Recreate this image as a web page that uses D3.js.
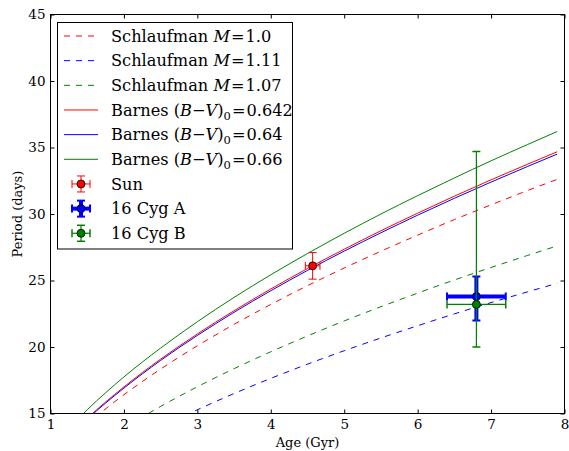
<!DOCTYPE html>
<html>
<head>
<meta charset="utf-8">
<script src="https://cdn.jsdelivr.net/npm/d3@7"></script>
<style>
  body { margin: 0; background: #fff; }
</style>
</head>
<body>
<svg id="chart" width="569" height="451" font-family="DejaVu Serif"></svg>
<script>
// Ages (Gyr) at which each rotation-period track is sampled
const ages = [1.0, 1.5, 2.0, 2.5, 3.0, 3.5, 4.0, 4.5, 5.0, 5.5, 6.0, 6.5, 7.0, 7.5, 7.9];

// Schlaufman tracks (period in days)
const schlaufmanM100 = [11.60, 14.21, 16.41, 18.34, 20.09, 21.70, 23.20, 24.61, 25.94, 27.20, 28.41, 29.58, 30.69, 31.77, 32.60];
const schlaufmanM111 = [8.82, 10.80, 12.47, 13.95, 15.28, 16.50, 17.64, 18.71, 19.72, 20.68, 21.60, 22.49, 23.34, 24.15, 24.79];
const schlaufmanM107 = [9.82, 12.03, 13.89, 15.53, 17.01, 18.37, 19.64, 20.83, 21.96, 23.03, 24.05, 25.04, 25.98, 26.89, 27.60];

// Barnes gyrochronology tracks (period in days)
const barnesBV0642 = [11.87, 14.64, 17.00, 19.09, 20.98, 22.73, 24.36, 25.90, 27.35, 28.74, 30.06, 31.34, 32.57, 33.75, 34.68];
const barnesBV064  = [11.80, 14.57, 16.91, 18.99, 20.87, 22.61, 24.23, 25.76, 27.21, 28.59, 29.91, 31.18, 32.40, 33.58, 34.50];
const barnesBV066  = [12.39, 15.28, 17.75, 19.92, 21.90, 23.73, 25.43, 27.03, 28.55, 30.00, 31.38, 32.71, 34.00, 35.23, 36.20];

// Stars with measured ages and periods
const starNames      = ["Sun", "16 Cyg A", "16 Cyg B"];
const starAges       = [4.57, 6.8, 6.8];
const starAgeErr     = [0.1, 0.4, 0.4];
const starPeriods    = [26.1, 23.8, 23.2];
const starPeriodLow  = [1.0, 1.8, 3.2];
const starPeriodHigh = [1.0, 1.5, 11.5];

// Axis ticks
const xTicks = [1, 2, 3, 4, 5, 6, 7, 8];
const yTicks = [15, 20, 25, 30, 35, 40, 45];

const FONT = "DejaVu Serif";
const svg = d3.select("#chart");
const plotLeft = 50.5, plotRight = 564.5, plotTop = 14.5, plotBottom = 413.5;

const x = d3.scaleLinear().domain([1, 8]).range([plotLeft, plotRight]);
const y = d3.scaleLinear().domain([15, 45]).range([plotBottom, plotTop]);

svg.append("defs").append("clipPath").attr("id", "plot-clip")
  .append("rect").attr("x", plotLeft).attr("y", plotTop)
  .attr("width", plotRight - plotLeft).attr("height", plotBottom - plotTop);

// Track definitions
const tracks = [
  { values: schlaufmanM100, color: "#ff0000", dashed: true },
  { values: schlaufmanM111, color: "#0000ff", dashed: true },
  { values: schlaufmanM107, color: "#008000", dashed: true },
  { values: barnesBV0642,   color: "#ff0000", dashed: false },
  { values: barnesBV064,    color: "#0000ff", dashed: false },
  { values: barnesBV066,    color: "#008000", dashed: false }
];

const line = d3.line()
  .x((d, i) => x(ages[i]))
  .y(d => y(d))
  .curve(d3.curveMonotoneX);

const plot = svg.append("g").attr("clip-path", "url(#plot-clip)");
tracks.forEach(t => {
  plot.append("path")
    .attr("d", line(t.values))
    .attr("fill", "none")
    .attr("stroke", t.color)
    .attr("stroke-width", 1)
    .attr("stroke-dasharray", t.dashed ? "6,6" : null);
});

// Error-bar styles per star
const starColors = ["#ff0000", "#0000ff", "#008000"];
const barWidths  = [1, 4, 1.2];
const capWidths  = [1, 2, 1.5];
const capHalf    = 4;

function drawErrorbar(g, cx, cy, x0, x1, y0, y1, i) {
  const c = starColors[i];
  g.append("line").attr("x1", x0).attr("x2", x1).attr("y1", cy).attr("y2", cy)
    .attr("stroke", c).attr("stroke-width", barWidths[i]);
  g.append("line").attr("x1", cx).attr("x2", cx).attr("y1", y0).attr("y2", y1)
    .attr("stroke", c).attr("stroke-width", barWidths[i]);
  [x0, x1].forEach(xx => g.append("line")
    .attr("x1", xx).attr("x2", xx).attr("y1", cy - capHalf).attr("y2", cy + capHalf)
    .attr("stroke", c).attr("stroke-width", capWidths[i]));
  [y0, y1].forEach(yy => g.append("line")
    .attr("x1", cx - capHalf).attr("x2", cx + capHalf).attr("y1", yy).attr("y2", yy)
    .attr("stroke", c).attr("stroke-width", capWidths[i]));
  g.append("circle").attr("cx", cx).attr("cy", cy).attr("r", 4)
    .attr("fill", c).attr("stroke", "#000").attr("stroke-width", 0.8);
}

const starLayer = svg.append("g").attr("clip-path", "url(#plot-clip)");
starNames.forEach((n, i) => {
  drawErrorbar(starLayer,
    x(starAges[i]), y(starPeriods[i]),
    x(starAges[i] - starAgeErr[i]), x(starAges[i] + starAgeErr[i]),
    y(starPeriods[i] + starPeriodHigh[i]), y(starPeriods[i] - starPeriodLow[i]), i);
});

// Axes with inward ticks on all four sides
const gx = svg.append("g").attr("transform", `translate(0,${plotBottom})`)
  .call(d3.axisBottom(x).tickValues(xTicks).tickFormat(d3.format("d"))
    .tickSizeInner(-4).tickSizeOuter(0).tickPadding(6));
const gxt = svg.append("g").attr("transform", `translate(0,${plotTop})`)
  .call(d3.axisTop(x).tickValues(xTicks).tickFormat("")
    .tickSizeInner(-4).tickSizeOuter(0));
const gy = svg.append("g").attr("transform", `translate(${plotLeft},0)`)
  .call(d3.axisLeft(y).tickValues(yTicks).tickFormat(d3.format("d"))
    .tickSizeInner(-4).tickSizeOuter(0).tickPadding(5));
const gyr = svg.append("g").attr("transform", `translate(${plotRight},0)`)
  .call(d3.axisRight(y).tickValues(yTicks).tickFormat("")
    .tickSizeInner(-4).tickSizeOuter(0));
[gx, gxt, gy, gyr].forEach(g => {
  g.attr("font-family", FONT).attr("font-size", 13.5);
  g.select(".domain").remove();
  g.selectAll(".tick line").attr("stroke", "#000").attr("stroke-width", 1);
  g.selectAll(".tick text").attr("fill", "#000");
});

// Frame
svg.append("rect").attr("x", plotLeft).attr("y", plotTop)
  .attr("width", plotRight - plotLeft).attr("height", plotBottom - plotTop)
  .attr("fill", "none").attr("stroke", "#000").attr("stroke-width", 1);

// Axis labels
svg.append("text").attr("x", (plotLeft + plotRight) / 2).attr("y", 447)
  .attr("font-family", FONT).attr("font-size", 13)
  .attr("text-anchor", "middle").text("Age (Gyr)");
svg.append("text")
  .attr("transform", `translate(22,${(plotTop + plotBottom) / 2}) rotate(-90)`)
  .attr("font-family", FONT).attr("font-size", 13)
  .attr("text-anchor", "middle").text("Period (days)");

// Legend
const legend = svg.append("g").attr("font-family", FONT);
legend.append("rect").attr("x", 57.5).attr("y", 22.5).attr("width", 235).attr("height", 226.5)
  .attr("fill", "#fff").attr("stroke", "#000").attr("stroke-width", 1);

const legendLabels = [
  [{ t: "Schlaufman " }, { t: "M", i: true }, { t: "=", dx: 1 }, { t: "1.0", dx: 1 }],
  [{ t: "Schlaufman " }, { t: "M", i: true }, { t: "=", dx: 1 }, { t: "1.11", dx: 1 }],
  [{ t: "Schlaufman " }, { t: "M", i: true }, { t: "=", dx: 1 }, { t: "1.07", dx: 1 }],
  [{ t: "Barnes (" }, { t: "B", i: true }, { t: "\u2212" }, { t: "V", i: true }, { t: ")" }, { t: "0", sub: true }, { t: "=", dx: 1, up: true }, { t: "0.642", dx: 1 }],
  [{ t: "Barnes (" }, { t: "B", i: true }, { t: "\u2212" }, { t: "V", i: true }, { t: ")" }, { t: "0", sub: true }, { t: "=", dx: 1, up: true }, { t: "0.64", dx: 1 }],
  [{ t: "Barnes (" }, { t: "B", i: true }, { t: "\u2212" }, { t: "V", i: true }, { t: ")" }, { t: "0", sub: true }, { t: "=", dx: 1, up: true }, { t: "0.66", dx: 1 }]
];

const rowY = i => 36 + i * 24.66;
const legendSize = 16.2;

tracks.forEach((t, i) => {
  const yy = rowY(i);
  legend.append("line").attr("x1", 64).attr("x2", 98).attr("y1", yy).attr("y2", yy)
    .attr("stroke", t.color).attr("stroke-width", 1)
    .attr("stroke-dasharray", t.dashed ? "6,6" : null);
  const txt = legend.append("text").attr("x", 111).attr("y", yy).attr("dy", "0.36em")
    .attr("font-size", legendSize);
  legendLabels[i].forEach(p => {
    const s = txt.append("tspan").text(p.t);
    if (p.i) s.attr("font-style", "italic");
    if (p.sub) s.attr("font-size", 11.5).attr("dy", 4);
    if (p.up) s.attr("dy", -4);
    if (p.dx) s.attr("dx", p.dx);
  });
});

starNames.forEach((n, i) => {
  const yy = rowY(6 + i);
  drawErrorbar(legend, 81, yy, 72, 90, yy - 8, yy + 8, i);
  legend.append("text").attr("x", 111).attr("y", yy).attr("dy", "0.36em")
    .attr("font-size", legendSize).text(n);
});
</script>
</body>
</html>
